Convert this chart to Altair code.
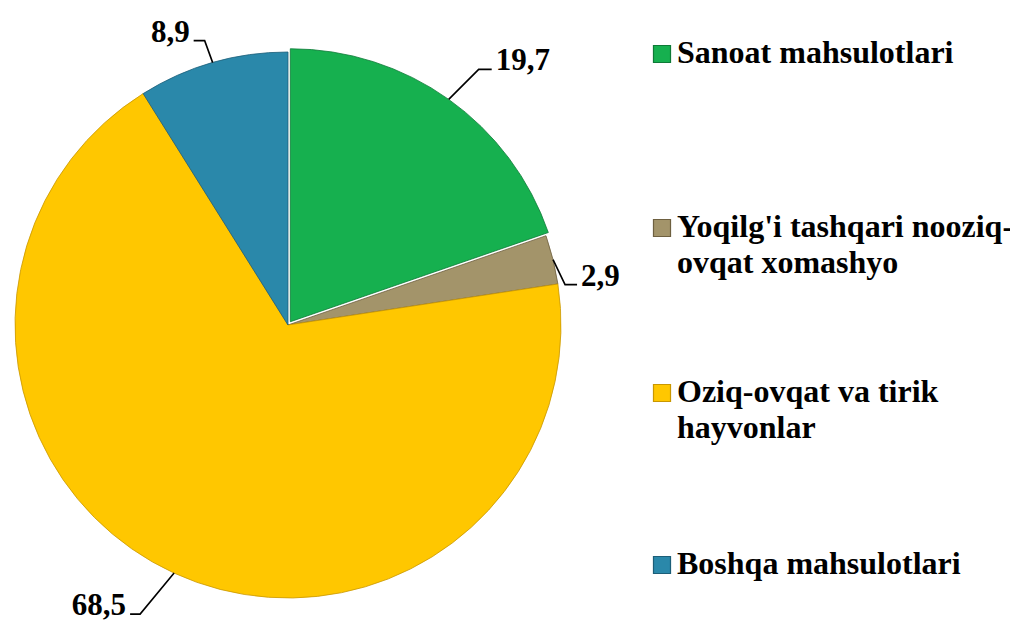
import math
import altair as alt
import pandas as pd

# ---------------- data ----------------
categories = [
    "Sanoat mahsulotlari",
    "Yoqilg'i tashqari nooziq-ovqat xomashyo",
    "Oziq-ovqat va tirik hayvonlar",
    "Boshqa mahsulotlari",
]
values = [19.7, 2.9, 68.5, 8.9]
value_labels = ["19,7", "2,9", "68,5", "8,9"]
legend_lines = [
    ["Sanoat mahsulotlari"],
    ["Yoqilg'i tashqari nooziq-", "ovqat xomashyo"],
    ["Oziq-ovqat va tirik", "hayvonlar"],
    ["Boshqa mahsulotlari"],
]

# ---------------- styles / layout ----------------
colors = ["#16B04F", "#A3946A", "#FFC700", "#2A88AA"]
edge_colors = ["#0E7A37", "#6E6040", "#C99700", "#1C5E78"]
FONT = "serif"
M = 8                      # page margin
W, H = 1002, 613
CX, CY, R = 288 - M, 325 - M, 273
EXPLODE = [4, 0, 0, 0]
ELBOW = [(30, -30), (12, 25), (-34, 41), (-8, -22)]   # elbow offset from rim point
ARM = [13, 12, -10, -11]                              # horizontal arm length
GAP = 4
LEG_SQ_X = 662 - M
LEG_TXT_X = 677 - M
LEG_BASE = [63 - M, 237 - M, 402 - M, 574 - M]
LINE_H = 35.5
LABEL_SIZE = 31
LEGEND_SIZE = 32

# ---------------- derived tables ----------------
total = sum(values)
slices = pd.DataFrame({
    "cat": categories,
    "value": values,
    "order": list(range(len(values))),
})

lines_rows, lab_rows = [], []
cum = 0.0
for i, v in enumerate(values):
    a = 2 * math.pi * (cum + v / 2) / total
    cum += v
    ox = EXPLODE[i] * math.sin(a)
    oy = -EXPLODE[i] * math.cos(a)
    rx = CX + ox + R * math.sin(a)
    ry = CY + oy - R * math.cos(a)
    ex, ey = rx + ELBOW[i][0], ry + ELBOW[i][1]
    tx, ty = ex + ARM[i], ey
    for s, (px, py) in enumerate([(rx, ry), (ex, ey), (tx, ty)]):
        lines_rows.append({"id": i, "seq": s, "px": px, "py": py})
    side = "left" if ARM[i] > 0 else "right"
    lab_rows.append({
        "id": i, "label": value_labels[i], "side": side,
        "px": tx + (GAP if ARM[i] > 0 else -GAP), "py": ey + 1,
    })
leader = pd.DataFrame(lines_rows)
labels = pd.DataFrame(lab_rows)

leg_sq = pd.DataFrame({
    "cat": categories,
    "px": [LEG_SQ_X] * len(categories),
    "py": [b - 9 for b in LEG_BASE],
})
leg_txt_rows = []
for i, lines in enumerate(legend_lines):
    for j, t in enumerate(lines):
        leg_txt_rows.append({"t": t, "px": LEG_TXT_X, "py": LEG_BASE[i] + j * LINE_H})
leg_txt = pd.DataFrame(leg_txt_rows)

color_scale = alt.Scale(domain=categories, range=colors)
stroke_scale = alt.Scale(domain=categories, range=edge_colors)

# ---------------- pie ----------------
base = (
    alt.Chart(slices)
    .transform_window(end="sum(value)", sort=[alt.SortField("order")], frame=[None, 0])
    .transform_calculate(start="datum.end - datum.value")
)
theta_scale = alt.Scale(domain=[0, total])


def arc_layer(idx_filter, dx, dy):
    return (
        base.transform_filter(idx_filter)
        .mark_arc(outerRadius=R, strokeWidth=0.8)
        .encode(
            theta=alt.Theta("start:Q", scale=theta_scale),
            theta2="end:Q",
            color=alt.Color("cat:N", scale=color_scale, legend=None),
            stroke=alt.Stroke("cat:N", scale=stroke_scale, legend=None),
            x=alt.value(CX + dx),
            y=alt.value(CY + dy),
        )
    )


a0 = 2 * math.pi * (values[0] / 2) / total
pie_rest = arc_layer("datum.order > 0", 0, 0)
pie_green = arc_layer("datum.order == 0", EXPLODE[0] * math.sin(a0), -EXPLODE[0] * math.cos(a0))

# ---------------- leader lines & labels ----------------
leader_layer = alt.Chart(leader).mark_line(color="black", strokeWidth=1.6).encode(
    x=alt.X("px:Q", scale=None),
    y=alt.Y("py:Q", scale=None),
    detail="id:N",
    order="seq:Q",
)


def label_layer(side):
    return (
        alt.Chart(labels)
        .transform_filter(f"datum.side == '{side}'")
        .mark_text(font=FONT, fontWeight="bold", fontSize=LABEL_SIZE, align=side,
                   baseline="alphabetic", color="black")
        .encode(x=alt.X("px:Q", scale=None), y=alt.Y("py:Q", scale=None), text="label:N")
    )


# ---------------- legend ----------------
legend_sq = alt.Chart(leg_sq).mark_square(size=290, opacity=1, strokeWidth=1.2).encode(
    x=alt.X("px:Q", scale=None),
    y=alt.Y("py:Q", scale=None),
    color=alt.Color("cat:N", scale=color_scale, legend=None),
    stroke=alt.Stroke("cat:N", scale=stroke_scale, legend=None),
)
legend_txt = alt.Chart(leg_txt).mark_text(
    font=FONT, fontWeight="bold", fontSize=LEGEND_SIZE, align="left",
    baseline="alphabetic", color="black",
).encode(x=alt.X("px:Q", scale=None), y=alt.Y("py:Q", scale=None), text="t:N")

chart = (
    alt.layer(pie_rest, pie_green, leader_layer, label_layer("left"), label_layer("right"),
              legend_sq, legend_txt)
    .properties(width=W, height=H, autosize=alt.AutoSizeParams(type="none"), padding=0,
                background="white")
    .configure_view(stroke=None)
)

chart.save("out.html", embed_options={"renderer": "svg", "actions": False})
